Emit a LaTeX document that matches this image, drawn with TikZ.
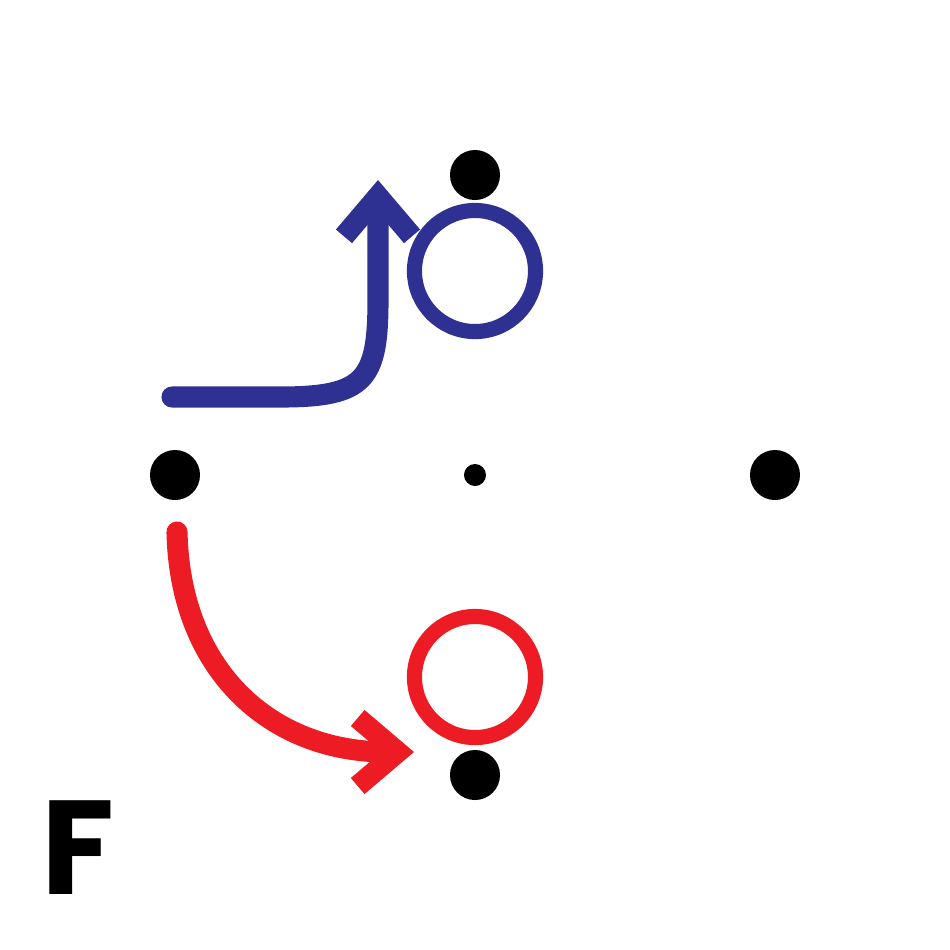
\documentclass[tikz,border=0pt]{standalone}
\usepackage{fontspec}
\setsansfont{Poppins}
\usetikzlibrary{arrows.meta}
\definecolor{ringblue}{HTML}{2E3192}
\definecolor{ringred}{HTML}{ED1C24}

\begin{document}
\begin{tikzpicture}[
    x=0.01cm, y=-0.01cm,
    dot/.style={circle, fill=black, inner sep=0pt, minimum size=0.5cm},
    ring/.style={circle, draw, line width=4.3pt, inner sep=0pt, minimum size=1.21cm},
    swing/.style={line width=6pt, line cap=round, -{Straight Barb[length=4mm, width=6.8mm]}}
]
    \useasboundingbox (0,0) rectangle (950,950);

    % Lattice points
    \node[dot] (top) at (475,175) {};
    \node[dot] (left) at (175,475) {};
    \node[dot] (right) at (775,475) {};
    \node[dot] (bottom) at (475,775) {};
    \node[circle, fill=black, inner sep=0pt, minimum size=0.22cm] (centre) at (475,475) {};

    % Shifted positions
    \node[ring, ringblue] (upring) at (475,271) {};
    \node[ring, ringred] (downring) at (475,677) {};

    % Moves
    \coordinate (bstart) at (172,397);
    \coordinate (bend) at (378,180);
    \draw[swing, ringblue] (bstart) -- (280,397) .. controls (365,397) and (378,380) .. (378,300) -- (bend);

    \coordinate (rstart) at (177,532);
    \coordinate (rend) at (414,752);
    \draw[swing, ringred] (rstart) .. controls (180,670) and (270,752) .. (rend);

    \node[font=\sffamily\bfseries\fontsize{38}{38}\selectfont] (label) at (78,848) {F};
\end{tikzpicture}
\end{document}
